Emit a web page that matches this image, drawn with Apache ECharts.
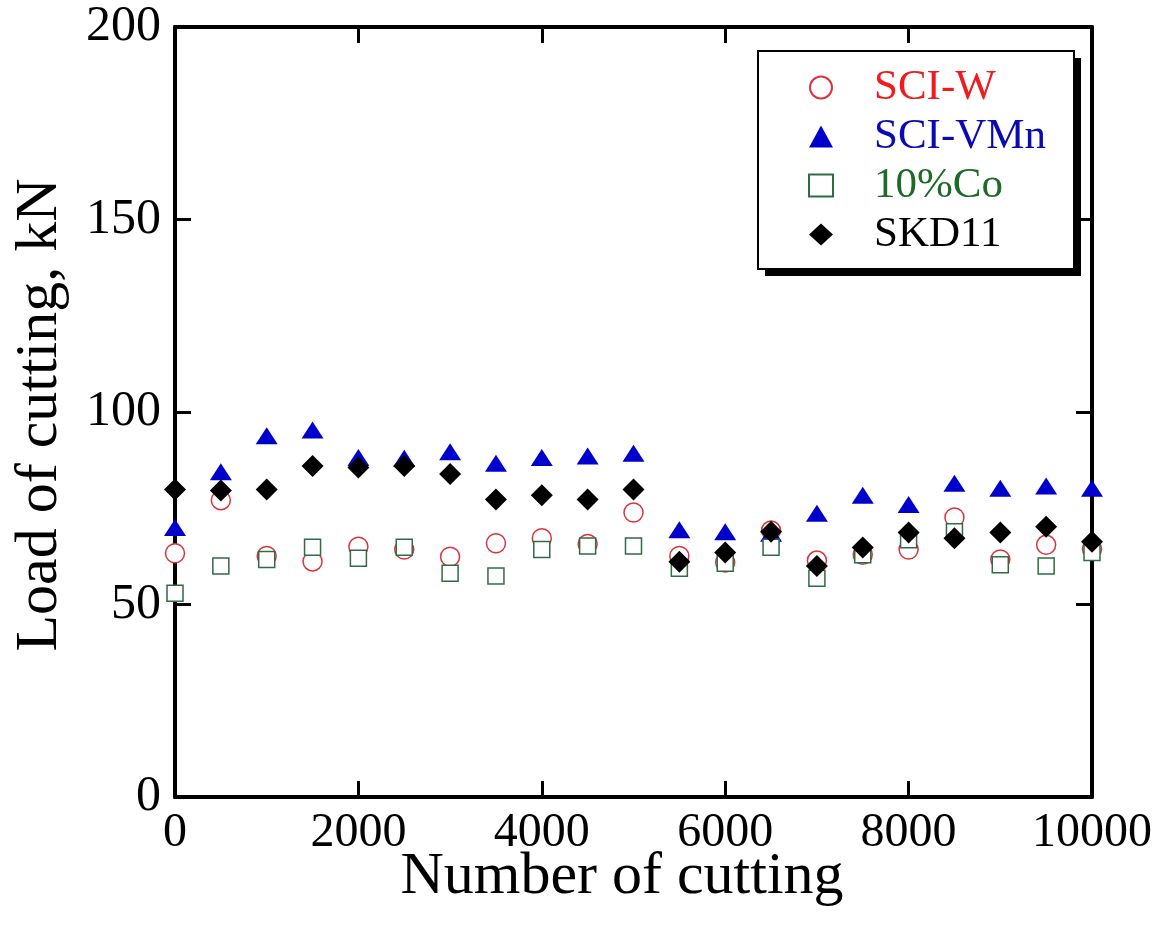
<!DOCTYPE html>
<html>
<head>
<meta charset="utf-8">
<script src="https://cdn.jsdelivr.net/npm/echarts@6/dist/echarts.min.js"></script>
<style>
  html, body { margin: 0; padding: 0; background: #fff; }
  #chart { width: 1161px; height: 932px; }
</style>
</head>
<body>
<div id="chart"></div>
<script>
// Number of cuts at which the cutting load was measured
const cuts = [0, 500, 1000, 1500, 2000, 2500, 3000, 3500, 4000, 4500, 5000,
              5500, 6000, 6500, 7000, 7500, 8000, 8500, 9000, 9500, 10000];

// Cutting load (kN) per die material
const sciW   = [63.3, 77.1, 62.6, 61.2, 65.0, 64.3, 62.4, 65.9, 67.2, 65.7, 73.9,
                62.6, 60.9, 69.2, 61.4, 62.9, 64.3, 72.6, 61.7, 65.5, 64.4];
const sciVMn = [70.0, 84.5, 93.8, 95.3, 88.2, 88.0, 89.7, 86.7, 88.2, 88.6, 89.3,
                69.4, 68.9, 68.5, 73.7, 78.4, 76.0, 81.5, 80.2, 80.8, 80.2];
const co10   = [52.9, 60.0, 61.7, 64.9, 62.0, 64.9, 58.1, 57.4, 64.3, 65.2, 65.2,
                59.4, 60.7, 64.9, 56.8, 62.9, 66.8, 68.9, 60.3, 60.0, 63.5];
const skd11  = [79.9, 79.6, 79.9, 86.0, 85.6, 86.0, 83.9, 77.3, 78.4, 77.3, 79.9,
                61.1, 63.5, 68.9, 60.0, 64.8, 68.7, 67.2, 68.7, 70.2, 66.3];

const seriesNames = ['SCI-W', 'SCI-VMn', '10%Co', 'SKD11'];
const xTickLabels = ['0', '2000', '4000', '6000', '8000', '10000'];
const yTickLabels = ['0', '50', '100', '150', '200'];

const SERIF = '"Liberation Serif", "Times New Roman", serif';
const pair = (ys) => cuts.map((x, i) => [x, ys[i]]);

const axisLine = () => ({ show: true, onZero: false, lineStyle: { color: '#000', width: 4 } });
const innerTicks = () => ({ show: true, inside: true, length: 16, lineStyle: { color: '#000', width: 3 } });

const chart = echarts.init(document.getElementById('chart'), null, { renderer: 'canvas' });

chart.setOption({
  backgroundColor: '#fff',
  animation: false,
  grid: { left: 175, right: 69, top: 27, bottom: 135, containLabel: false },
  xAxis: [
    {
      type: 'value', min: 0, max: 10000, interval: 2000, position: 'bottom',
      axisLine: axisLine(), axisTick: innerTicks(), splitLine: { show: false },
      axisLabel: {
        margin: 12, fontFamily: SERIF, fontSize: 48, color: '#000',
        formatter: (v) => xTickLabels[Math.round(v / 2000)]
      }
    },
    {
      type: 'value', min: 0, max: 10000, interval: 2000, position: 'top',
      axisLine: axisLine(), axisTick: innerTicks(), splitLine: { show: false },
      axisLabel: { show: false }
    }
  ],
  yAxis: [
    {
      type: 'value', min: 0, max: 200, interval: 50, position: 'left',
      axisLine: axisLine(), axisTick: innerTicks(), splitLine: { show: false },
      axisLabel: {
        margin: 14, fontFamily: SERIF, fontSize: 50, color: '#000',
        formatter: (v) => yTickLabels[Math.round(v / 50)]
      }
    },
    {
      type: 'value', min: 0, max: 200, interval: 50, position: 'right',
      axisLine: axisLine(), axisTick: innerTicks(), splitLine: { show: false },
      axisLabel: { show: false }
    }
  ],
  legend: {
    orient: 'vertical',
    left: 758, top: 52,
    padding: [14, 22, 18, 50],
    itemWidth: 24, itemHeight: 22, itemGap: 6,
    backgroundColor: 'transparent', borderWidth: 0,
    textStyle: { fontFamily: SERIF, fontSize: 43, lineHeight: 42, padding: [0, 0, 0, 36] },
    data: [
      { name: seriesNames[0], textStyle: { color: '#ee1c1c' } },
      { name: seriesNames[1], textStyle: { color: '#0a0ab4' } },
      { name: seriesNames[2], textStyle: { color: '#1d6b27' } },
      { name: seriesNames[3], textStyle: { color: '#000' } }
    ]
  },
  graphic: [
    // legend frame with its solid drop shadow
    {
      type: 'rect', z: 3, silent: true,
      shape: { x: 765, y: 58, width: 316, height: 218 },
      style: { fill: '#000' }
    },
    {
      type: 'rect', z: 3, silent: true,
      shape: { x: 758, y: 51, width: 316, height: 218 },
      style: { fill: '#fff', stroke: '#000', lineWidth: 2 }
    },
    {
      type: 'text', x: 40, y: 415, rotation: Math.PI / 2,
      style: { text: 'Load of cutting, kN', font: '60px ' + SERIF, fill: '#000',
               textAlign: 'center', textVerticalAlign: 'middle' }
    },
    {
      type: 'text', x: 622, y: 877,
      style: { text: 'Number of cutting', font: '60px ' + SERIF, fill: '#000',
               textAlign: 'center', textVerticalAlign: 'middle' }
    }
  ],
  series: [
    {
      name: seriesNames[0], type: 'scatter', data: pair(sciW),
      symbol: 'circle', symbolSize: 19,
      itemStyle: { color: '#fff', borderColor: '#d9343c', borderWidth: 1.5, opacity: 1 }
    },
    {
      name: seriesNames[1], type: 'scatter', data: pair(sciVMn),
      symbol: 'triangle', symbolSize: [22, 17],
      itemStyle: { color: '#0000cc', opacity: 1 }
    },
    {
      name: seriesNames[2], type: 'scatter', data: pair(co10),
      symbol: 'rect', symbolSize: 16,
      itemStyle: { color: '#fff', borderColor: '#2f6b45', borderWidth: 1.5, opacity: 1 }
    },
    {
      name: seriesNames[3], type: 'scatter', data: pair(skd11),
      symbol: 'diamond', symbolSize: [22, 22],
      itemStyle: { color: '#000', opacity: 1 }
    }
  ]
});
</script>
</body>
</html>
